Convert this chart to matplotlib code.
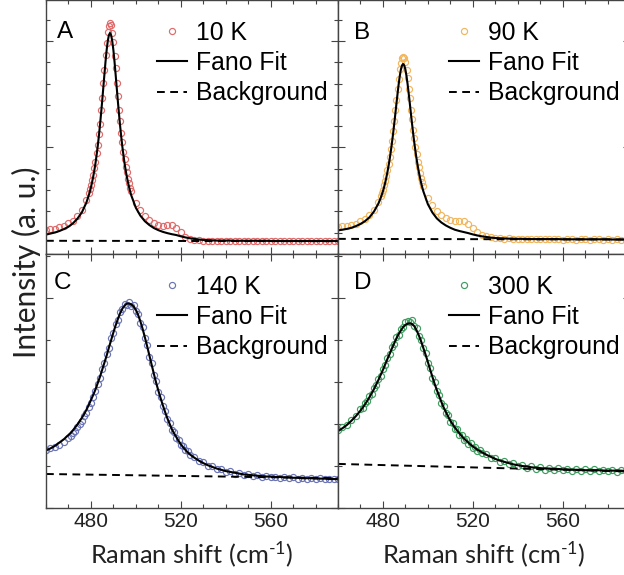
import matplotlib
matplotlib.use('Agg')
import matplotlib.pyplot as plt
import numpy as np
from matplotlib.ticker import MultipleLocator

plt.rcParams['font.family'] = ['Liberation Sans', 'DejaVu Sans']
plt.rcParams['mathtext.fontset'] = 'custom'
plt.rcParams['mathtext.rm'] = 'Lato'
plt.rcParams['mathtext.default'] = 'regular'

# sampling positions (cm-1): finer where the narrow peaks are
x_top = np.concatenate([np.arange(460, 479, 2), np.arange(479, 498.5, 0.5), np.arange(500, 591, 2)])
x_bot = np.concatenate([np.arange(460, 471, 2), np.arange(471, 525, 1), np.arange(526, 591, 2)])

# 10 K
a_data = [1.13, 1.15, 1.19, 1.27, 1.32, 1.45, 1.57, 1.80, 2.07, 2.55,
          2.85, 3.04, 3.22, 3.47, 3.71, 4.02, 4.33, 4.74, 5.13, 5.64,
          6.12, 6.74, 7.31, 8.02, 8.65, 9.34, 9.88, 10.40, 10.70, 10.86,
          10.74, 10.36, 9.93, 9.30, 8.71, 8.01, 7.40, 6.75, 6.23, 5.67,
          5.24, 4.79, 4.45, 4.08, 3.83, 3.54, 3.35, 3.11, 2.95,
          2.38, 2.06, 1.78, 1.60, 1.46, 1.35, 1.31, 1.35, 1.37, 1.24,
          1.01, 0.82, 0.72, 0.67, 0.64, 0.63,
          0.62, 0.61, 0.63, 0.62, 0.60, 0.62, 0.63, 0.61, 0.62, 0.62,
          0.60, 0.61, 0.63, 0.62, 0.61, 0.60, 0.62, 0.61, 0.62, 0.60,
          0.61, 0.62, 0.61, 0.60, 0.62, 0.61, 0.60, 0.61, 0.60, 0.61]
a_fit = [0.91, 0.96, 1.01, 1.08, 1.17, 1.28, 1.44, 1.66, 1.96, 2.42,
         2.74, 2.92, 3.13, 3.36, 3.62, 3.91, 4.24, 4.62, 5.03, 5.50,
         6.01, 6.57, 7.16, 7.79, 8.42, 9.03, 9.57, 9.99, 10.27, 10.37,
         10.27, 9.99, 9.57, 9.03, 8.42, 7.79, 7.16, 6.57, 6.01, 5.50,
         5.03, 4.62, 4.24, 3.91, 3.62, 3.36, 3.13, 2.92, 2.74,
         2.17, 1.80, 1.54, 1.36, 1.22, 1.12, 1.04, 0.98, 0.93, 0.89,
         0.83, 0.78, 0.74, 0.71, 0.68, 0.66,
         0.65, 0.64, 0.63, 0.63, 0.63, 0.63, 0.62, 0.62, 0.62, 0.62,
         0.62, 0.62, 0.62, 0.62, 0.61, 0.61, 0.61, 0.61, 0.61, 0.61,
         0.61, 0.61, 0.61, 0.61, 0.61, 0.61, 0.61, 0.61, 0.61, 0.61]
a_bg = [0.62, 0.60]

# 90 K
b_data = [1.27, 1.30, 1.32, 1.37, 1.42, 1.53, 1.63, 1.82, 2.06, 2.45,
          2.70, 2.86, 3.00, 3.22, 3.41, 3.68, 3.93, 4.24, 4.55, 4.94,
          5.31, 5.78, 6.22, 6.75, 7.22, 7.76, 8.20, 8.66, 8.96, 9.22,
          9.26, 9.19, 9.01, 8.64, 8.27, 7.76, 7.31, 6.77, 6.33, 5.83,
          5.44, 5.01, 4.69, 4.33, 4.07, 3.79, 3.58, 3.36, 3.20,
          2.63, 2.31, 2.02, 1.85, 1.69, 1.61, 1.55, 1.57, 1.56, 1.43,
          1.21, 1.05, 0.90, 0.83, 0.80, 0.75,
          0.74, 0.72, 0.73, 0.71, 0.72, 0.70, 0.71, 0.70, 0.72, 0.69,
          0.70, 0.71, 0.69, 0.70, 0.68, 0.70, 0.69, 0.68, 0.70, 0.69,
          0.68, 0.69, 0.70, 0.68, 0.69, 0.67, 0.69, 0.68, 0.67, 0.68]
b_fit = [1.11, 1.14, 1.18, 1.23, 1.31, 1.41, 1.54, 1.72, 1.99, 2.37,
         2.63, 2.78, 2.94, 3.13, 3.34, 3.58, 3.84, 4.13, 4.45, 4.81,
         5.20, 5.62, 6.08, 6.55, 7.04, 7.51, 7.96, 8.35, 8.66, 8.85,
         8.92, 8.85, 8.66, 8.35, 7.96, 7.51, 7.04, 6.55, 6.08, 5.62,
         5.20, 4.81, 4.45, 4.13, 3.84, 3.58, 3.34, 3.13, 2.94,
         2.34, 1.95, 1.67, 1.48, 1.34, 1.23, 1.14, 1.08, 1.03, 0.98,
         0.92, 0.87, 0.83, 0.80, 0.77, 0.75,
         0.74, 0.73, 0.72, 0.72, 0.71, 0.71, 0.71, 0.70, 0.70, 0.70,
         0.70, 0.70, 0.70, 0.70, 0.69, 0.69, 0.69, 0.69, 0.69, 0.69,
         0.69, 0.69, 0.69, 0.69, 0.69, 0.68, 0.68, 0.68, 0.68, 0.68]
b_bg = [0.71, 0.68]

# 140 K
c_data = [1.39, 1.43, 1.45, 1.50, 1.57, 1.67,
          1.72, 1.79, 1.84, 1.92, 1.99, 2.08, 2.18, 2.27, 2.40, 2.51,
          2.65, 2.79, 2.96, 3.10, 3.31, 3.45, 3.66, 3.80, 4.04, 4.16,
          4.38, 4.47, 4.66, 4.73, 4.86, 4.84, 4.91, 4.82, 4.83, 4.69,
          4.63, 4.41, 4.30, 4.04, 3.89, 3.60, 3.45, 3.17, 3.02, 2.77,
          2.64, 2.43, 2.31, 2.12, 2.03, 1.86, 1.80, 1.67, 1.62, 1.50,
          1.47, 1.37, 1.35, 1.26,
          1.22, 1.11, 1.09, 1.00, 0.99, 0.92, 0.93, 0.86, 0.87, 0.82,
          0.84, 0.78, 0.80, 0.76, 0.78, 0.74, 0.76, 0.73, 0.75, 0.72,
          0.74, 0.71, 0.73, 0.70, 0.72, 0.69, 0.72, 0.69, 0.71, 0.68,
          0.70, 0.68, 0.70]
c_fit = [1.37, 1.42, 1.48, 1.56, 1.64, 1.74,
         1.79, 1.85, 1.92, 1.99, 2.07, 2.15, 2.24, 2.34, 2.45, 2.57,
         2.69, 2.82, 2.97, 3.12, 3.29, 3.46, 3.63, 3.82, 4.00, 4.18,
         4.35, 4.50, 4.64, 4.75, 4.82, 4.87, 4.87, 4.85, 4.80, 4.72,
         4.60, 4.45, 4.27, 4.07, 3.86, 3.64, 3.42, 3.20, 2.99, 2.80,
         2.62, 2.45, 2.29, 2.14, 2.01, 1.88, 1.78, 1.69, 1.60, 1.52,
         1.45, 1.39, 1.33, 1.28,
         1.20, 1.13, 1.07, 1.02, 0.98, 0.94, 0.91, 0.88, 0.86, 0.84,
         0.82, 0.80, 0.79, 0.78, 0.77, 0.76, 0.75, 0.75, 0.74, 0.74,
         0.73, 0.73, 0.72, 0.72, 0.71, 0.71, 0.71, 0.70, 0.70, 0.70,
         0.69, 0.69, 0.69]
c_bg = [0.81, 0.71]

# 300 K
d_data = [1.85, 1.93, 1.97, 2.10, 2.18, 2.35,
          2.37, 2.50, 2.54, 2.67, 2.72, 2.86, 2.93, 3.08, 3.15, 3.32,
          3.40, 3.58, 3.66, 3.83, 3.90, 4.07, 4.12, 4.27, 4.30, 4.42,
          4.46, 4.44, 4.47, 4.34, 4.28, 4.09, 4.01, 3.80, 3.69, 3.46,
          3.33, 3.10, 2.99, 2.78, 2.70, 2.50, 2.43, 2.26, 2.21, 2.05,
          2.03, 1.89, 1.88, 1.75, 1.75, 1.63, 1.64, 1.53, 1.54, 1.44,
          1.46, 1.36, 1.39, 1.30,
          1.29, 1.19, 1.20, 1.10, 1.12, 1.04, 1.06, 0.99, 1.02, 0.96,
          0.99, 0.93, 0.97, 0.91, 0.96, 0.90, 0.95, 0.90, 0.94, 0.88,
          0.93, 0.89, 0.92, 0.87, 0.92, 0.88, 0.91, 0.87, 0.90, 0.86,
          0.91, 0.87, 0.89]
d_fit = [1.83, 1.90, 1.98, 2.08, 2.19, 2.32,
         2.39, 2.47, 2.55, 2.64, 2.73, 2.83, 2.94, 3.05, 3.17, 3.29,
         3.42, 3.55, 3.67, 3.80, 3.92, 4.04, 4.14, 4.23, 4.31, 4.36,
         4.39, 4.40, 4.38, 4.33, 4.23, 4.11, 3.97, 3.81, 3.65, 3.48,
         3.30, 3.13, 2.96, 2.81, 2.67, 2.53, 2.40, 2.29, 2.18, 2.08,
         2.00, 1.92, 1.85, 1.78, 1.72, 1.66, 1.61, 1.56, 1.51, 1.47,
         1.43, 1.39, 1.36, 1.33,
         1.27, 1.22, 1.17, 1.13, 1.10, 1.07, 1.04, 1.02, 1.00, 0.99,
         0.97, 0.96, 0.95, 0.94, 0.94, 0.93, 0.93, 0.92, 0.92, 0.91,
         0.91, 0.91, 0.90, 0.90, 0.90, 0.90, 0.89, 0.89, 0.89, 0.89,
         0.89, 0.88, 0.88]
d_bg = [1.05, 0.87]

bg_x = [460, 590]
letters = ['A', 'B', 'C', 'D']
temps = ['10 K', '90 K', '140 K', '300 K']
colors = ['#e06a6a', '#f2b65c', '#6a74b4', '#3f9c60']

panels = [
    (x_top, a_data, a_fit, a_bg),
    (x_top, b_data, b_fit, b_bg),
    (x_bot, c_data, c_fit, c_bg),
    (x_bot, d_data, d_fit, d_bg),
]

fig = plt.figure(figsize=(6.24, 5.75), dpi=100)
W, H = 292 / 624, 254 / 575
corners = [(46 / 624, 1 - 254 / 575), (338 / 624, 1 - 254 / 575),
           (46 / 624, 1 - 508 / 575), (338 / 624, 1 - 508 / 575)]
letter_pos = [(0.038, 0.918), (0.055, 0.915), (0.025, 0.93), (0.055, 0.93)]

for i, (xs, data, fit, bg) in enumerate(panels):
    ax = fig.add_axes([corners[i][0], corners[i][1], W, H])
    bottom = i >= 2
    ax.plot(xs, data, 'o', ms=4.4, mfc='none', mec=colors[i], mew=0.85, label=temps[i])
    ax.plot(xs, fit, '-', color='black', lw=1.5, label='Fano Fit')
    ax.plot(bg_x, bg, color='black', lw=1.4, ls=(0, (4, 2.8)), label='Background')

    ax.set_xlim(460, 590)
    ax.set_ylim(0, 6.05 if bottom else 11.92)
    ax.xaxis.set_major_locator(MultipleLocator(40))
    ax.xaxis.set_minor_locator(MultipleLocator(10))
    ax.yaxis.set_major_locator(MultipleLocator(5))
    ax.yaxis.set_minor_locator(MultipleLocator(1))
    ax.tick_params(which='both', direction='in', top=True, right=True,
                   labelleft=False, labelbottom=bottom, colors='#444444',
                   labelcolor='#222222', labelsize=15, width=0.8, pad=3)
    ax.tick_params(which='major', length=5)
    ax.tick_params(which='minor', length=3)
    for sp in ax.spines.values():
        sp.set_color('#444444')
        sp.set_linewidth(1.0)

    ax.text(letter_pos[i][0], letter_pos[i][1], letters[i], transform=ax.transAxes,
            fontsize=17.5, ha='left', va='top')
    ax.legend(loc='upper right', bbox_to_anchor=(0.966, 0.918), frameon=False,
              fontsize=17.8, handlelength=1.2, handletextpad=0.4, labelspacing=0.25,
              borderpad=0, borderaxespad=0)

    if bottom:
        ax.set_xlabel('Raman shift (cm$^{\u2010 1}$)', family='Lato', fontsize=18.3,
                      color='#222222', labelpad=6)

fig.text(0.042, 0.544, 'Intensity (a. u.)', family='Lato', fontsize=21.5, color='#222222',
         rotation=90, ha='center', va='center')

fig.savefig('out.png', dpi=100)
